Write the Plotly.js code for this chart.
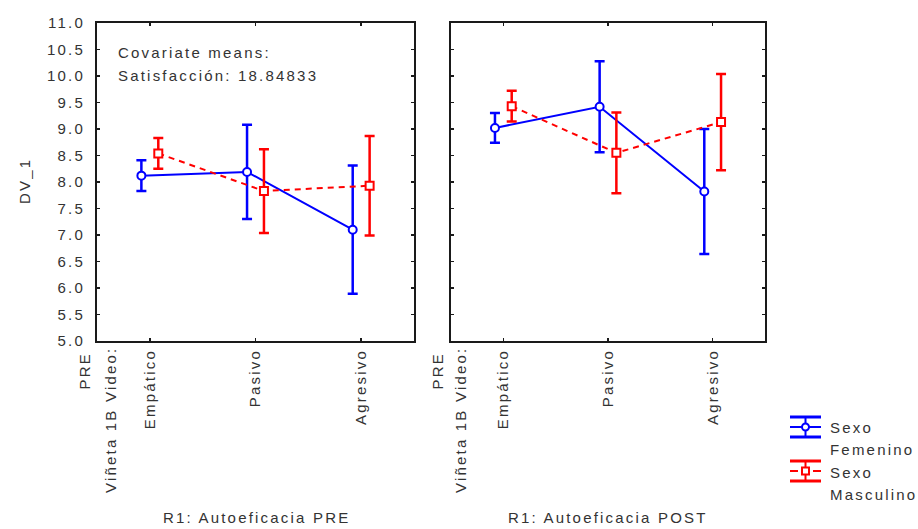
<!DOCTYPE html>
<html>
<head>
<meta charset="utf-8">
<script src="https://cdn.plot.ly/plotly-3.0.1.min.js"></script>
<style>
html,body{margin:0;padding:0;background:#fff;}
#chart{width:918px;height:529px;}
svg text{letter-spacing:2.2px;}
</style>
</head>
<body>
<div id="chart"></div>
<script>
// ---- data ----
const categories = ['Empático', 'Pasivo', 'Agresivo'];
const preFem = [8.12, 8.19, 7.10];
const preFemErr = [0.29, 0.89, 1.21];
const preMas = [8.54, 7.83, 7.93];
const preMasErr = [0.29, 0.79, 0.94];
const postFem = [9.02, 9.42, 7.82];
const postFemErr = [0.28, 0.86, 1.18];
const postMas = [9.43, 8.55, 9.13];
const postMasErr = [0.29, 0.76, 0.91];
const yTicks = [5.0, 5.5, 6.0, 6.5, 7.0, 7.5, 8.0, 8.5, 9.0, 9.5, 10.0, 10.5, 11.0];
const seriesNames = ['Sexo<br>Femenino', 'Sexo<br>Masculino'];
const panelTitles = ['R1: Autoeficacia PRE', 'R1: Autoeficacia POST'];

// ---- layout helpers ----
const W = 918, H = 529;
const X = p => p / W;
const Y = p => 1 - p / H;
const BLUE = '#0000ff', RED = '#ff0000', TXT = '#333333';
const FONT = 'Liberation Sans, Arial, sans-serif';
const idx = categories.map((c, i) => i);
const shift = (d) => idx.map(i => i + d);

function tr(xa, ya, vals, errs, color, dash, symbol, name, d) {
  return {
    type: 'scatter', mode: 'lines+markers', xaxis: xa, yaxis: ya, name: name,
    x: shift(d), y: vals,
    error_y: {type: 'data', array: errs, visible: true, color: color, thickness: 2.5, width: 5},
    line: {color: color, width: 2, dash: dash},
    marker: {symbol: symbol, size: 8, color: '#ffffff', line: {color: color, width: 2}},
    showlegend: false, cliponaxis: false
  };
}

const data = [
  tr('x', 'y', preFem, preFemErr, BLUE, 'solid', 'circle', seriesNames[0], -0.08),
  tr('x', 'y', preMas, preMasErr, RED, '6px,5px', 'square', seriesNames[1], 0.08),
  tr('x2', 'y2', postFem, postFemErr, BLUE, 'solid', 'circle', seriesNames[0], -0.08),
  tr('x2', 'y2', postMas, postMasErr, RED, '6px,5px', 'square', seriesNames[1], 0.08)
];

const xBase = {
  range: [-0.5, 2.5], tickvals: idx, ticktext: categories, tickangle: -90,
  showline: true, linecolor: '#1a1a1a', linewidth: 2, mirror: 'allticks',
  ticks: 'inside', ticklen: 3, tickcolor: '#1a1a1a', tickwidth: 1.5,
  showgrid: false, zeroline: false, fixedrange: true,
  tickfont: {family: FONT, size: 15, color: TXT}, ticklabelstandoff: 0
};
const yBase = {
  range: [5, 11], tickvals: yTicks, tickformat: '.1f',
  domain: [Y(341), Y(23)],
  showline: true, linecolor: '#1a1a1a', linewidth: 2, mirror: 'allticks',
  ticks: 'inside', ticklen: 3, tickcolor: '#1a1a1a', tickwidth: 1.5,
  showgrid: false, zeroline: false, fixedrange: true,
  tickfont: {family: FONT, size: 15, color: TXT}, ticklabelstandoff: 7
};

const ann = (text, x, y, opts) => Object.assign({
  text: text, xref: 'paper', yref: 'paper', x: X(x), y: Y(y), showarrow: false,
  font: {family: FONT, size: 15, color: TXT}, xanchor: 'center', yanchor: 'middle',
  borderpad: 0
}, opts || {});

const annotations = [
  ann('Covariate means:', 117, 53, {xanchor: 'left'}),
  ann('Satisfacción: 18.84833', 117, 75, {xanchor: 'left'}),
  ann('DV_1', 25, 181, {textangle: -90}),
  ann('PRE', 84, 352, {textangle: -90, yanchor: 'top'}),
  ann('Viñeta 1B Video:', 110, 346, {textangle: -90, yanchor: 'top'}),
  ann('PRE', 437, 352, {textangle: -90, yanchor: 'top'}),
  ann('Viñeta 1B Video:', 460, 346, {textangle: -90, yanchor: 'top'}),
  ann(panelTitles[0], 256, 517),
  ann(panelTitles[1], 608, 517),
  ann('Sexo', 829, 427, {xanchor: 'left'}),
  ann('Femenino', 829, 449, {xanchor: 'left'}),
  ann('Sexo', 829, 472, {xanchor: 'left'}),
  ann('Masculino', 829, 494, {xanchor: 'left'})
];

// legend icons (custom, error-bar style)
function icon(cy, color, dashed, symbol) {
  const L = (x0, y0, x1, y1, w, dash) => ({type: 'line', xref: 'paper', yref: 'paper',
    x0: X(x0), y0: Y(y0), x1: X(x1), y1: Y(y1), line: {color: color, width: w, dash: dash || 'solid'}});
  const s = [
    L(790, cy - 10, 821, cy - 10, 3),
    L(790, cy + 10, 821, cy + 10, 3),
    L(805.5, cy - 10, 805.5, cy + 10, 2),
    dashed ? L(790, cy, 798, cy, 2) : L(790, cy, 821, cy, 2)
  ];
  if (dashed) s.push(L(813, cy, 821, cy, 2));
  s.push({type: symbol, xref: 'paper', yref: 'paper',
    x0: X(802), x1: X(809), y0: Y(cy + 3.5), y1: Y(cy - 3.5),
    fillcolor: '#ffffff', line: {color: color, width: 2}});
  return s;
}
const shapes = [].concat(icon(427, BLUE, false, 'circle'), icon(471, RED, true, 'rect'));

const layout = {
  width: W, height: H, margin: {l: 0, r: 0, t: 0, b: 0},
  paper_bgcolor: '#ffffff', plot_bgcolor: '#ffffff',
  showlegend: false,
  xaxis: Object.assign({}, xBase, {domain: [X(97), X(414)], anchor: 'y'}),
  yaxis: Object.assign({}, yBase, {anchor: 'x'}),
  xaxis2: Object.assign({}, xBase, {domain: [X(451), X(765)], anchor: 'y2'}),
  yaxis2: Object.assign({}, yBase, {anchor: 'x2', showticklabels: false}),
  annotations: annotations, shapes: shapes
};

Plotly.newPlot('chart', data, layout, {displayModeBar: false, staticPlot: true});
</script>
</body>
</html>
